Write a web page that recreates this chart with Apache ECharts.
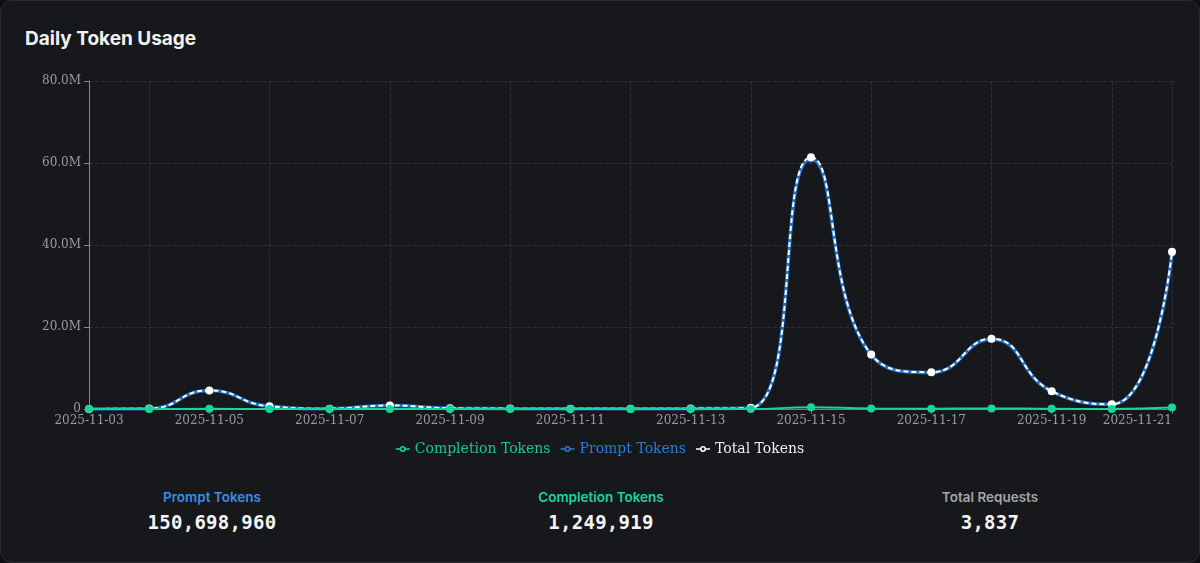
<!DOCTYPE html>
<html>
<head>
<meta charset="utf-8">
<script src="https://cdn.jsdelivr.net/npm/echarts@6/dist/echarts.min.js"></script>
<style>
    html, body { margin: 0; padding: 0; background: #0e0f12; }
    .card {
        position: relative;
        width: 1198px; height: 561px;
        background: #17181c;
        border: 1px solid #2c2e34;
        border-radius: 12px;
        overflow: hidden;
    }
    .title {
        position: absolute; left: 24px; top: 26px;
        font-family: Inter, "Noto Sans", sans-serif;
        font-weight: 700; font-size: 19px; color: #f2f2f2;
    }
    #chart { position: absolute; left: 0; top: 0; width: 1198px; height: 470px; }
    .stats { position: absolute; top: 488px; left: 0; width: 1198px; }
    .stat { position: absolute; width: 300px; text-align: center; }
    .stat .label {
        font-family: Inter, "Noto Sans", sans-serif;
        font-weight: 600; font-size: 13.5px;
    }
    .stat .value {
        font-family: "DejaVu Sans Mono", monospace;
        font-weight: bold; font-size: 19px; color: #f4f4f4; margin-top: 6px;
        letter-spacing: 0.3px;
    }
</style>
</head>
<body>
<div class="card">
    <div class="title">Daily Token Usage</div>
    <div id="chart"></div>
    <div class="stats">
        <div class="stat" style="left:61px"><div class="label" style="color:#3b8ee6">Prompt Tokens</div><div class="value" id="v0"></div></div>
        <div class="stat" style="left:450px"><div class="label" style="color:#16d69b">Completion Tokens</div><div class="value" id="v1"></div></div>
        <div class="stat" style="left:839px"><div class="label" style="color:#a3a5aa">Total Requests</div><div class="value" id="v2"></div></div>
    </div>
</div>
<script>
// 日期
const dates = ['2025-11-03', '2025-11-04', '2025-11-05', '2025-11-06', '2025-11-07', '2025-11-08',
    '2025-11-09', '2025-11-10', '2025-11-11', '2025-11-12', '2025-11-13', '2025-11-14',
    '2025-11-15', '2025-11-16', '2025-11-17', '2025-11-18', '2025-11-19', '2025-11-20', '2025-11-21'];
// 数据 (tokens)
const promptTokens = [20000, 90000, 4500000, 650000, 80000, 850000, 180000, 90000, 80000, 70000, 90000,
    280000, 61000000, 13200000, 8900000, 17000000, 4300000, 1150000, 38000000];
const completionTokens = [1000, 2000, 40000, 8000, 1500, 15000, 4000, 2000, 1500, 1500, 2000,
    6000, 420000, 120000, 80000, 150000, 45000, 12000, 336000];
const totalTokens = promptTokens.map((v, i) => v + completionTokens[i]);
// 汇总
const summary = ['150,698,960', '1,249,919', '3,837'];

summary.forEach((s, i) => { document.getElementById('v' + i).textContent = s; });

const chart = echarts.init(document.getElementById('chart'));
const serif = 'DejaVu Serif';
// 图例图标: 线 + 空心圆
const legendIcon = 'path://M0,4.3 h4.2 v1.4 h-4.2 Z M9.8,4.3 h4.2 v1.4 h-4.2 Z ' +
    'M4,5 A3,3 0 1 1 10,5 A3,3 0 1 1 4,5 Z M5.6,5 A1.4,1.4 0 1 0 8.4,5 A1.4,1.4 0 1 0 5.6,5 Z';

const option = {
    backgroundColor: 'transparent',
    animation: false,
    textStyle: { fontFamily: serif },
    legend: {
        top: 436,
        left: 'center',
        itemWidth: 14,
        itemHeight: 10,
        itemGap: 10,
        icon: legendIcon,
        textStyle: { fontFamily: serif, fontSize: 14 },
        data: [
            { name: 'Completion Tokens', textStyle: { color: '#16c98f' } },
            { name: 'Prompt Tokens', textStyle: { color: '#2b7bd4' } },
            { name: 'Total Tokens', textStyle: { color: '#eeeeee' } }
        ]
    },
    grid: { left: 88, right: 27, top: 80, height: 328, outerBoundsMode: 'none' },
    xAxis: {
        type: 'category',
        boundaryGap: false,
        data: dates,
        axisLine: { lineStyle: { color: '#777a80' } },
        axisTick: { interval: 1, lineStyle: { color: '#777a80' } },
        axisLabel: {
            interval: 1, color: '#9a9ca2', fontSize: 12, fontFamily: serif, margin: 6,
            alignMaxLabel: 'right'
        },
        splitLine: {
            show: true,
            interval: idx => idx % 2 === 1 || idx === dates.length - 1,
            lineStyle: { color: '#2e3036', type: 'dashed' }
        }
    },
    yAxis: {
        type: 'value',
        min: 0,
        max: 80000000,
        interval: 20000000,
        axisLine: { show: true, lineStyle: { color: '#8a8c92' } },
        axisTick: { show: true, lineStyle: { color: '#8a8c92' } },
        axisLabel: {
            color: '#9a9ca2', fontSize: 12, fontFamily: serif,
            formatter: v => v === 0 ? '0' : (v / 1e6).toFixed(1) + 'M'
        },
        splitLine: { lineStyle: { color: '#2e3036', type: 'dashed' } }
    },
    series: [
        {
            name: 'Completion Tokens',
            type: 'line',
            data: completionTokens,
            smooth: true,
            symbol: 'circle',
            symbolSize: 8,
            z: 4,
            itemStyle: { color: '#16d69b' },
            lineStyle: { width: 2, color: '#16d69b' }
        },
        {
            name: 'Prompt Tokens',
            type: 'line',
            data: promptTokens,
            smooth: true,
            symbol: 'circle',
            symbolSize: 7,
            z: 2,
            itemStyle: { color: '#2b7bd4' },
            lineStyle: { width: 3.5, color: '#2470c4' }
        },
        {
            name: 'Total Tokens',
            type: 'line',
            data: totalTokens,
            smooth: true,
            symbol: 'circle',
            symbolSize: 8,
            z: 3,
            itemStyle: { color: '#ffffff' },
            lineStyle: { width: 2, color: '#ffffff', type: [5, 3] }
        }
    ]
};

chart.setOption(option);
</script>
</body>
</html>
